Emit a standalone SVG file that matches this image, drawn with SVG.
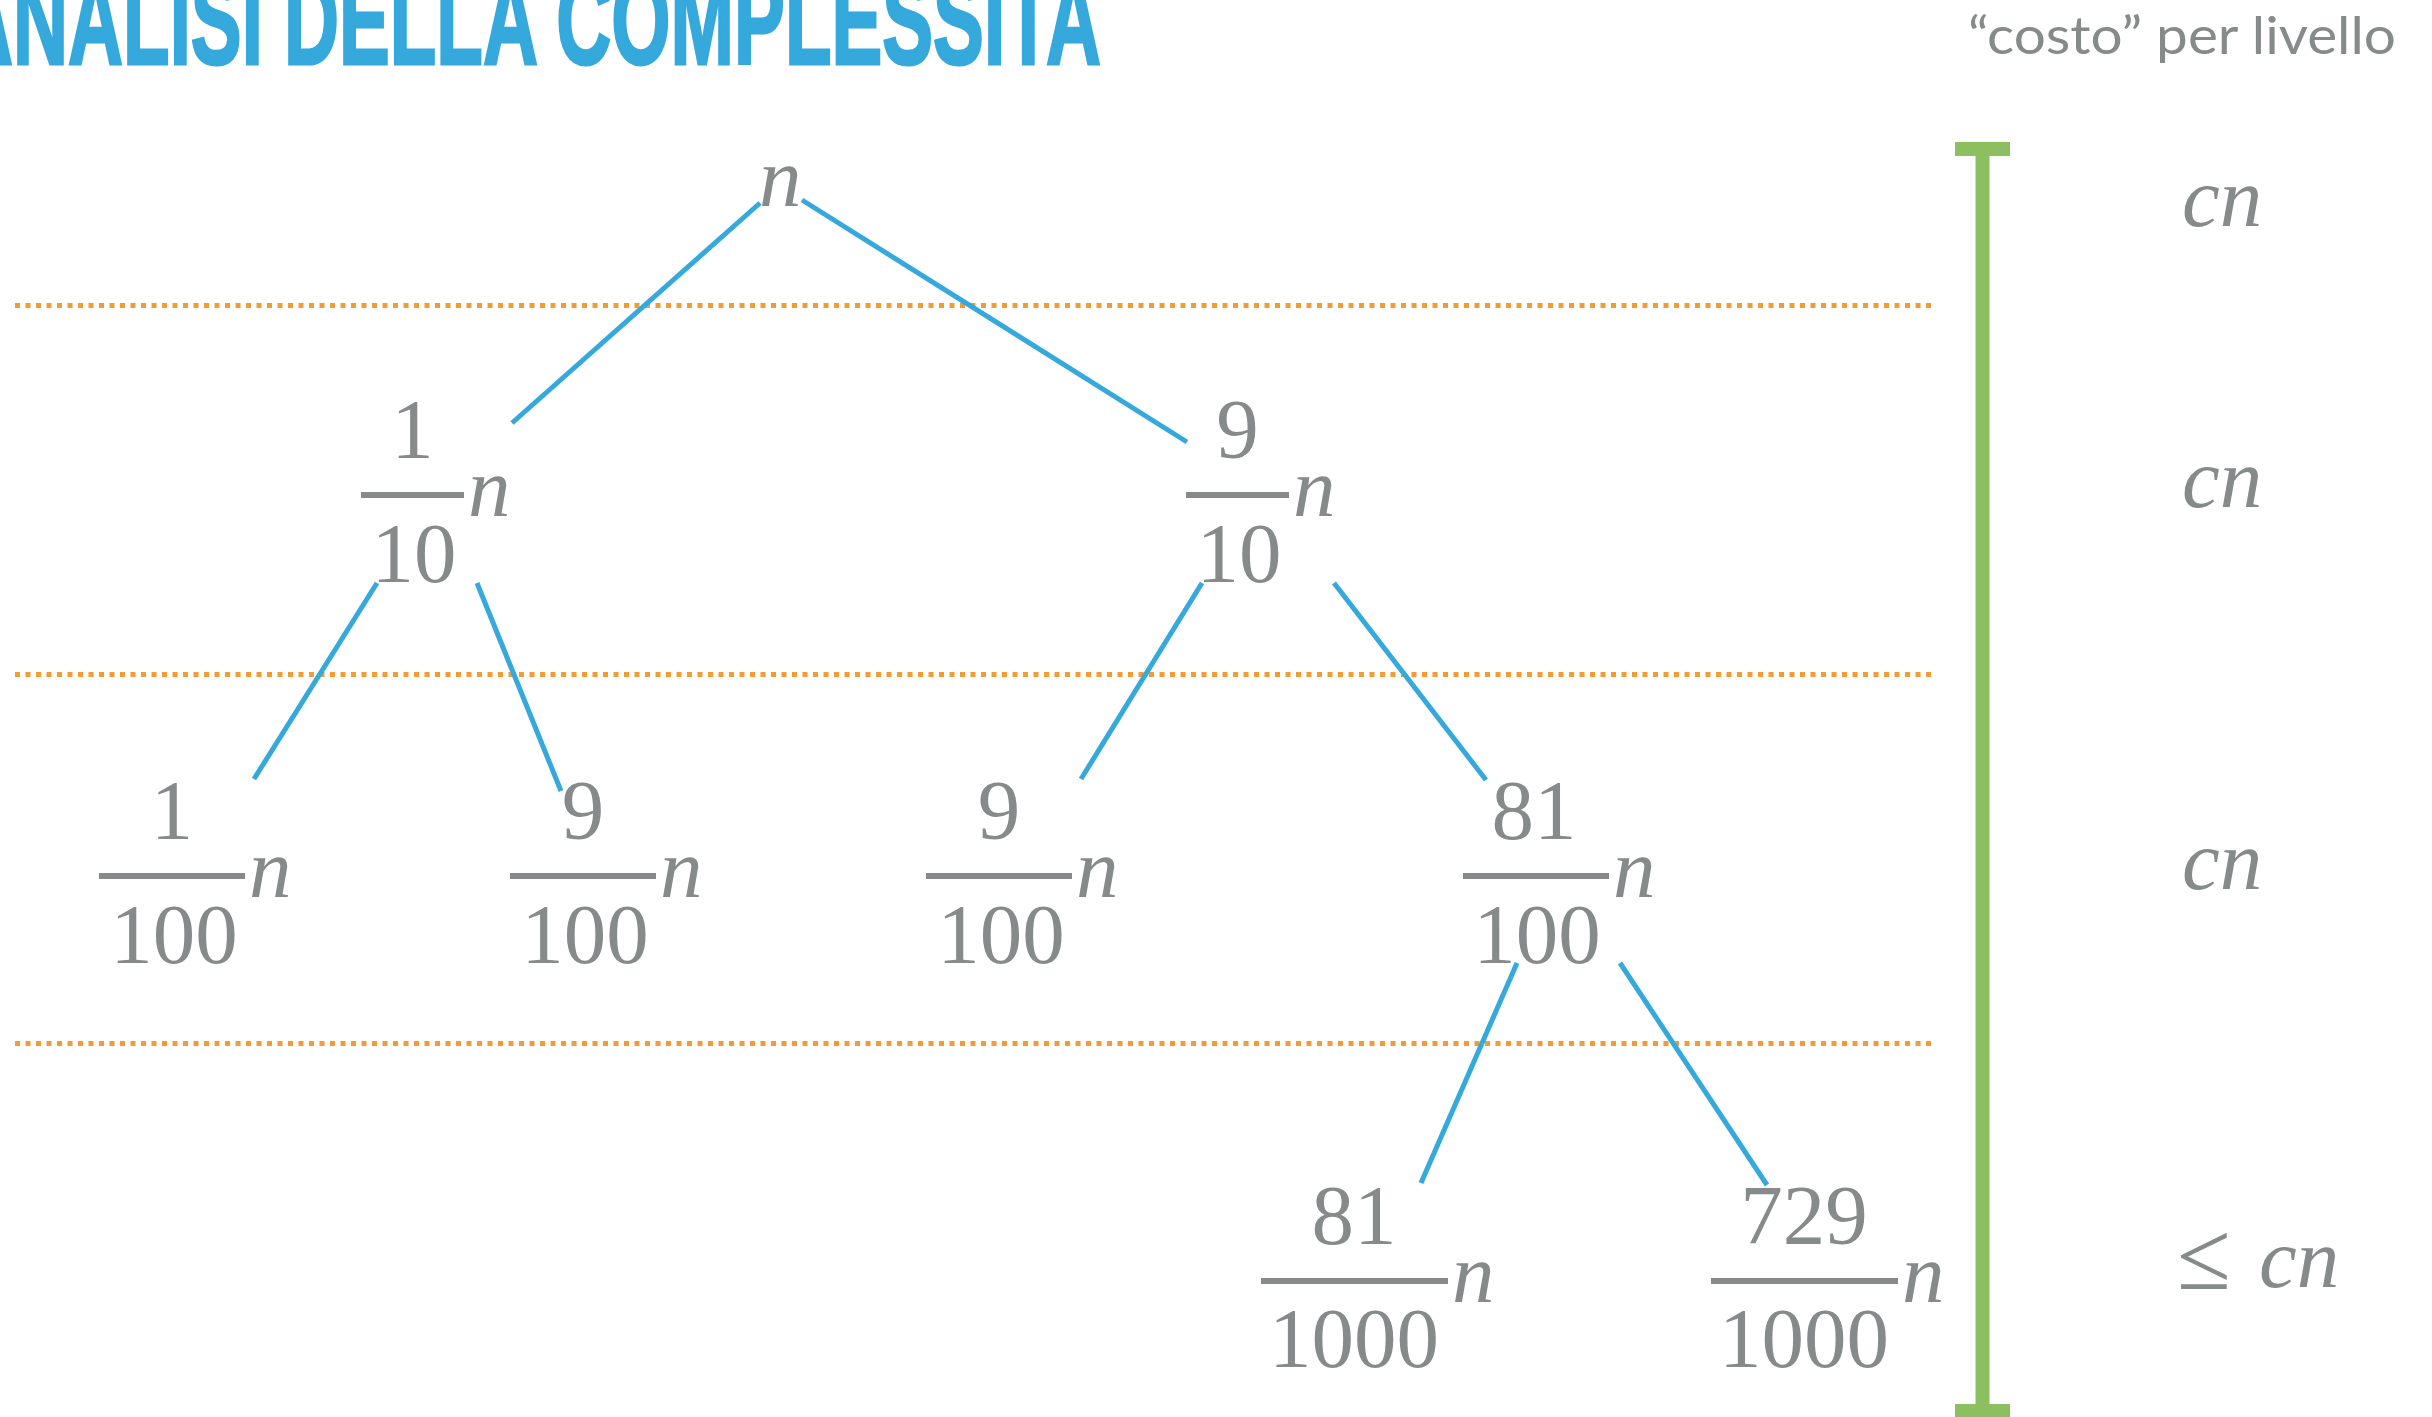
<svg xmlns="http://www.w3.org/2000/svg" width="2432" height="1417" viewBox="0 0 2432 1417">
<style>
.title{font-family:"Liberation Sans",Arial,sans-serif;font-weight:bold;font-size:126px;fill:#35a8dc;stroke:#35a8dc;stroke-width:3}
.lab{font-family:Lato,"Open Sans",sans-serif;font-size:53px;fill:#868a8a}
.num{font-family:"Liberation Serif","Times New Roman",serif;font-size:85px;fill:#868a8a;text-anchor:middle}
.mi{font-family:"Liberation Serif","Times New Roman",serif;font-style:italic;font-size:85px;fill:#868a8a}
.mo{font-family:"Liberation Serif","Times New Roman",serif;font-size:98px;fill:#868a8a}
.bar{fill:#868a8a}
.edge{stroke:#35a8dc;stroke-width:5;fill:none}
.lvl{stroke:#f39c34;stroke-width:5;stroke-dasharray:5 5.5;fill:none}
.green{stroke:#8cbf5f;fill:none}
</style>
<rect width="2432" height="1417" fill="#ffffff"/>
<text class="title" x="-42" y="64" textLength="1143" lengthAdjust="spacingAndGlyphs">ANALISI DELLA COMPLESSITA</text>
<text class="lab" x="1968" y="54" textLength="428" lengthAdjust="spacingAndGlyphs">“costo” per livello</text>

<g id="levels">
<line class="lvl" x1="15" y1="305.5" x2="1931" y2="305.5"/>
<line class="lvl" x1="15" y1="674.5" x2="1931" y2="674.5"/>
<line class="lvl" x1="15" y1="1043.5" x2="1931" y2="1043.5"/>
</g>

<g id="bracket">
<line class="green" x1="1982.5" y1="142" x2="1982.5" y2="1417" stroke-width="14"/>
<line class="green" x1="1955" y1="149" x2="2010" y2="149" stroke-width="14"/>
<line class="green" x1="1955" y1="1411" x2="2010" y2="1411" stroke-width="14"/>
</g>

<g id="connectors">
<line class="edge" x1="760" y1="203" x2="512" y2="423"/>
<line class="edge" x1="802" y1="200" x2="1187" y2="442"/>
<line class="edge" x1="377" y1="583" x2="254" y2="779"/>
<line class="edge" x1="477" y1="583" x2="561" y2="791"/>
<line class="edge" x1="1202" y1="583" x2="1081" y2="779"/>
<line class="edge" x1="1334" y1="583" x2="1486" y2="780"/>
<line class="edge" x1="1517" y1="963" x2="1421" y2="1183"/>
<line class="edge" x1="1620" y1="963" x2="1767" y2="1185"/>
</g>

<g id="node-root"><text class="mi" x="759" y="206">n</text></g>

<g id="node-1-10">
<text class="num" x="412.5" y="458">1</text>
<rect class="bar" x="361" y="492" width="103" height="6"/>
<text class="num" x="414" y="582">10</text>
<text class="mi" x="468" y="516">n</text>
</g>
<g id="node-9-10">
<text class="num" x="1237.5" y="458">9</text>
<rect class="bar" x="1186" y="492" width="103" height="6"/>
<text class="num" x="1239" y="582">10</text>
<text class="mi" x="1293" y="516">n</text>
</g>

<g id="node-1-100">
<text class="num" x="172" y="839">1</text>
<rect class="bar" x="99" y="873" width="146" height="6"/>
<text class="num" x="174" y="963">100</text>
<text class="mi" x="249" y="897">n</text>
</g>
<g id="node-9-100a">
<text class="num" x="583" y="839">9</text>
<rect class="bar" x="510" y="873" width="146" height="6"/>
<text class="num" x="585" y="963">100</text>
<text class="mi" x="660" y="897">n</text>
</g>
<g id="node-9-100b">
<text class="num" x="999" y="839">9</text>
<rect class="bar" x="926" y="873" width="146" height="6"/>
<text class="num" x="1001" y="963">100</text>
<text class="mi" x="1076" y="897">n</text>
</g>
<g id="node-81-100">
<text class="num" x="1534" y="839">81</text>
<rect class="bar" x="1463" y="873" width="146" height="6"/>
<text class="num" x="1537" y="963">100</text>
<text class="mi" x="1613" y="897">n</text>
</g>

<g id="node-81-1000">
<text class="num" x="1354" y="1244">81</text>
<rect class="bar" x="1261" y="1278" width="187" height="6"/>
<text class="num" x="1354" y="1367">1000</text>
<text class="mi" x="1452" y="1302">n</text>
</g>
<g id="node-729-1000">
<text class="num" x="1804" y="1244">729</text>
<rect class="bar" x="1711" y="1278" width="187" height="6"/>
<text class="num" x="1804" y="1367">1000</text>
<text class="mi" x="1902" y="1302">n</text>
</g>

<g id="costs">
<text class="mi" x="2182" y="226">cn</text>
<text class="mi" x="2182" y="507">cn</text>
<text class="mi" x="2182" y="889">cn</text>
<text class="mo" x="2177" y="1289">≤</text>
<text class="mi" x="2259" y="1287">cn</text>
</g>
</svg>
